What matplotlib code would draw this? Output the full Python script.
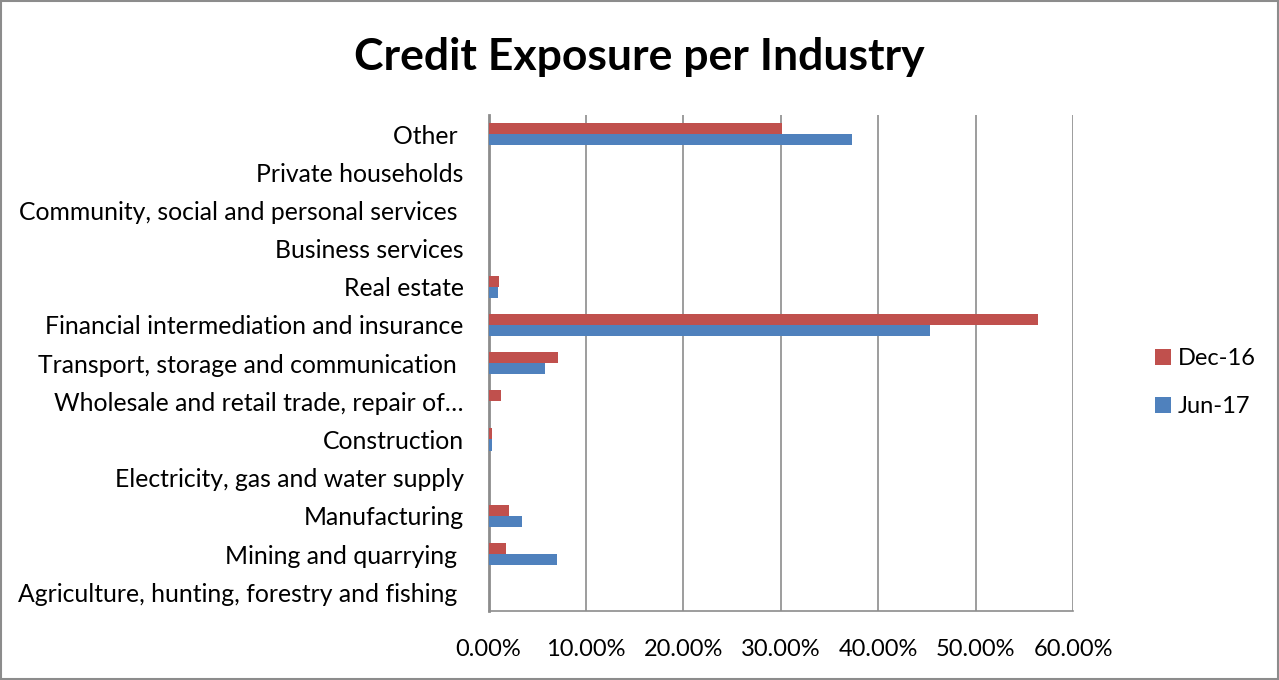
import numpy as np
import matplotlib.pyplot as plt
from matplotlib.ticker import FuncFormatter

industries = [
    "Agriculture, hunting, forestry and fishing ",
    "Mining and quarrying ",
    "Manufacturing",
    "Electricity, gas and water supply",
    "Construction",
    "Wholesale and retail trade, repair of\u2026",
    "Transport, storage and communication ",
    "Financial intermediation and insurance",
    "Real estate",
    "Business services",
    "Community, social and personal services ",
    "Private households",
    "Other ",
]
dec_16 = [0.0, 1.8, 2.05, 0.0, 0.35, 1.25, 7.15, 56.4, 1.05, 0.0, 0.0, 0.0, 30.1]
jun_17 = [0.0, 7.0, 3.4, 0.0, 0.38, 0.0, 5.8, 45.3, 1.0, 0.0, 0.0, 0.0, 37.3]

plt.rcParams['font.family'] = ['Lato', 'DejaVu Sans']

fig = plt.figure(figsize=(12.79, 6.8), dpi=100)
ax = fig.add_axes([0.382, 0.101, 0.457, 0.730])

y = np.arange(len(industries))
h = 0.29
ax.barh(y + h / 2, dec_16, height=h, color="#C0504D", label="Dec-16", zorder=3)
ax.barh(y - h / 2, jun_17, height=h, color="#4F81BD", label="Jun-17", zorder=3)

ax.set_xlim(0, 60)
ax.set_ylim(-0.5, len(industries) - 0.5)
ax.set_xticks(np.arange(0, 61, 10))
ax.xaxis.set_major_formatter(FuncFormatter(lambda v, p: f"{v:.2f}%"))
ax.set_yticks(y)
ax.set_yticklabels(industries)
ax.tick_params(axis="both", length=0)
ax.tick_params(axis="x", pad=20, labelsize=17)
ax.tick_params(axis="y", pad=18, labelsize=17.8)
ax.grid(axis="x", color="#8c8c8c", linewidth=1.2, zorder=0)
for s in ["top", "right"]:
    ax.spines[s].set_visible(False)
ax.spines["left"].set_color("#8c8c8c")
ax.spines["left"].set_linewidth(2)
ax.spines["bottom"].set_color("#8c8c8c")
ax.spines["bottom"].set_linewidth(1.2)

fig.suptitle("Credit Exposure per Industry", fontsize=32, fontweight="bold", y=0.945)

handles, labels = ax.get_legend_handles_labels()
fig.legend(handles, labels, loc="center left", bbox_to_anchor=(0.896, 0.437), frameon=False,
           fontsize=17, handlelength=0.65, handleheight=0.65, labelspacing=1.15,
           handletextpad=0.3, borderaxespad=0)

fig.patches.append(plt.Rectangle((0.001, 0.001), 0.998, 0.997, transform=fig.transFigure,
                                 fill=False, edgecolor="#8c8c8c", linewidth=1.5))

fig.savefig("out.png", dpi=100)
